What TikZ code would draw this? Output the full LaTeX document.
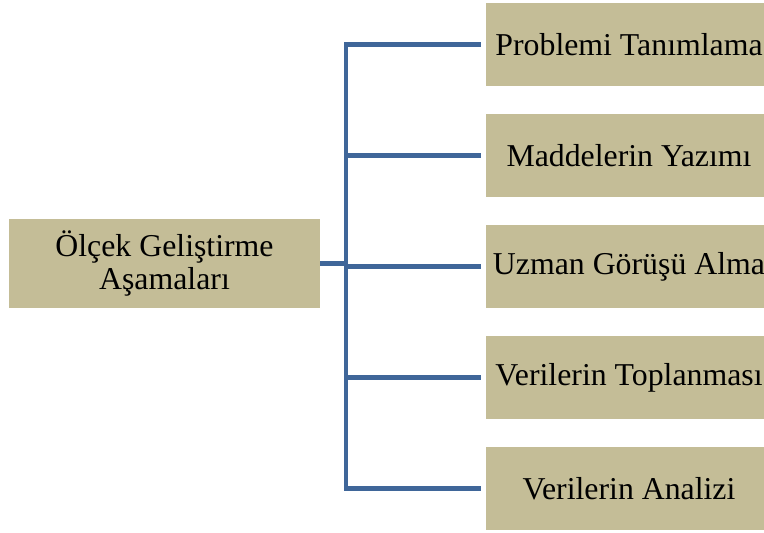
\documentclass[tikz,border=0pt]{standalone}
\usepackage{fontspec}
\setmainfont{Liberation Serif}
\definecolor{boxfill}{RGB}{196,189,151}
\definecolor{linecol}{RGB}{63,102,153}
\begin{document}
\begin{tikzpicture}[x=1pt,y=-1pt,
  box/.style={fill=boxfill,draw=none,inner sep=0pt,align=center,
    font=\fontsize{31.8}{33}\selectfont},
  leftbox/.style={box,minimum width=311pt,minimum height=89pt},
  rightbox/.style={box,minimum width=286pt,minimum height=83pt},
  conn/.style={draw=linecol,line width=4.5pt,line join=miter}]
\useasboundingbox (0,0) rectangle (764,533);
\clip (0,0) rectangle (764,533);
\node[leftbox] (L) at (164.5,263.5) {Ölçek Geliştirme\\Aşamaları};
\node[rightbox] (r1) at (629,44.5) {Problemi Tanımlama};
\node[rightbox] (r2) at (629,155.5) {Maddelerin Yazımı};
\node[rightbox] (r3) at (629,266.5) {Uzman Görüşü Alma};
\node[rightbox] (r4) at (629,377.5) {Verilerin Toplanması};
\node[rightbox] (r5) at (629,488.5) {Verilerin Analizi};
\coordinate (bx) at (346,0);
\draw[conn] ([xshift=-5pt]r1.west) -- (r1 -| bx) -- (r5 -| bx) -- ([xshift=-5pt]r5.west);
\foreach \i in {2,3,4} {\draw[conn] (r\i -| bx) -- ([xshift=-5pt]r\i.west);}
\draw[conn] (L.east) -- (L -| bx);
\end{tikzpicture}
\end{document}
